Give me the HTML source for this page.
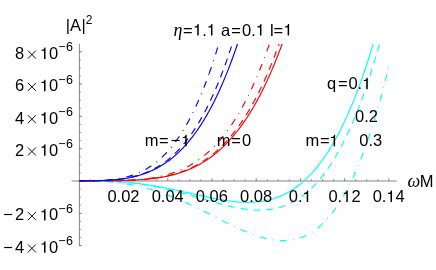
<!DOCTYPE html>
<html><head><meta charset="utf-8"><title>chart</title>
<style>
html,body{margin:0;padding:0;background:#fff;}
body{width:436px;height:270px;overflow:hidden;}
svg{display:block;will-change:transform;}
text{font-family:"Liberation Sans",sans-serif;fill:#000;}
</style></head><body>
<svg width="436" height="270" viewBox="0 0 436 270">
<g stroke="#555" stroke-width="0.7" fill="none">
<line x1="71.6" y1="181.0" x2="396.7" y2="181.0"/>
<line x1="79.4" y1="44" x2="79.4" y2="245.90"/>
<line x1="90.45" y1="181.00" x2="90.45" y2="179.40"/>
<line x1="101.50" y1="181.00" x2="101.50" y2="179.40"/>
<line x1="112.55" y1="181.00" x2="112.55" y2="179.40"/>
<line x1="123.60" y1="181.00" x2="123.60" y2="178.20"/>
<line x1="134.65" y1="181.00" x2="134.65" y2="179.40"/>
<line x1="145.70" y1="181.00" x2="145.70" y2="179.40"/>
<line x1="156.75" y1="181.00" x2="156.75" y2="179.40"/>
<line x1="167.80" y1="181.00" x2="167.80" y2="178.20"/>
<line x1="178.85" y1="181.00" x2="178.85" y2="179.40"/>
<line x1="189.90" y1="181.00" x2="189.90" y2="179.40"/>
<line x1="200.95" y1="181.00" x2="200.95" y2="179.40"/>
<line x1="212.00" y1="181.00" x2="212.00" y2="178.20"/>
<line x1="223.05" y1="181.00" x2="223.05" y2="179.40"/>
<line x1="234.10" y1="181.00" x2="234.10" y2="179.40"/>
<line x1="245.15" y1="181.00" x2="245.15" y2="179.40"/>
<line x1="256.20" y1="181.00" x2="256.20" y2="178.20"/>
<line x1="267.25" y1="181.00" x2="267.25" y2="179.40"/>
<line x1="278.30" y1="181.00" x2="278.30" y2="179.40"/>
<line x1="289.35" y1="181.00" x2="289.35" y2="179.40"/>
<line x1="300.40" y1="181.00" x2="300.40" y2="178.20"/>
<line x1="311.45" y1="181.00" x2="311.45" y2="179.40"/>
<line x1="322.50" y1="181.00" x2="322.50" y2="179.40"/>
<line x1="333.55" y1="181.00" x2="333.55" y2="179.40"/>
<line x1="344.60" y1="181.00" x2="344.60" y2="178.20"/>
<line x1="355.65" y1="181.00" x2="355.65" y2="179.40"/>
<line x1="366.70" y1="181.00" x2="366.70" y2="179.40"/>
<line x1="377.75" y1="181.00" x2="377.75" y2="179.40"/>
<line x1="388.80" y1="181.00" x2="388.80" y2="178.20"/>
<line x1="79.40" y1="245.60" x2="82.00" y2="245.60"/>
<line x1="79.40" y1="237.52" x2="80.80" y2="237.52"/>
<line x1="79.40" y1="229.45" x2="80.80" y2="229.45"/>
<line x1="79.40" y1="221.38" x2="80.80" y2="221.38"/>
<line x1="79.40" y1="213.30" x2="82.00" y2="213.30"/>
<line x1="79.40" y1="205.22" x2="80.80" y2="205.22"/>
<line x1="79.40" y1="197.15" x2="80.80" y2="197.15"/>
<line x1="79.40" y1="189.07" x2="80.80" y2="189.07"/>
<line x1="79.40" y1="172.93" x2="80.80" y2="172.93"/>
<line x1="79.40" y1="164.85" x2="80.80" y2="164.85"/>
<line x1="79.40" y1="156.78" x2="80.80" y2="156.78"/>
<line x1="79.40" y1="148.70" x2="82.00" y2="148.70"/>
<line x1="79.40" y1="140.62" x2="80.80" y2="140.62"/>
<line x1="79.40" y1="132.55" x2="80.80" y2="132.55"/>
<line x1="79.40" y1="124.48" x2="80.80" y2="124.48"/>
<line x1="79.40" y1="116.40" x2="82.00" y2="116.40"/>
<line x1="79.40" y1="108.33" x2="80.80" y2="108.33"/>
<line x1="79.40" y1="100.25" x2="80.80" y2="100.25"/>
<line x1="79.40" y1="92.18" x2="80.80" y2="92.18"/>
<line x1="79.40" y1="84.10" x2="82.00" y2="84.10"/>
<line x1="79.40" y1="76.03" x2="80.80" y2="76.03"/>
<line x1="79.40" y1="67.95" x2="80.80" y2="67.95"/>
<line x1="79.40" y1="59.88" x2="80.80" y2="59.88"/>
<line x1="79.40" y1="51.80" x2="82.00" y2="51.80"/>
</g>
<g fill="none" stroke-width="1.15">
<path d="M79.40 180.80 L80.40 180.80 L81.40 180.80 L82.40 180.80 L83.40 180.80 L84.40 180.80 L85.40 180.80 L86.40 180.81 L87.40 180.81 L88.40 180.81 L89.40 180.82 L90.40 180.82 L91.40 180.83 L92.40 180.84 L93.40 180.85 L94.40 180.86 L95.40 180.87 L96.40 180.88 L97.40 180.90 L98.40 180.92 L99.40 180.93 L100.40 180.96 L101.40 180.98 L102.40 181.00 L103.40 181.03 L104.40 181.06 L105.40 181.09 L106.40 181.12 L107.40 181.15 L108.40 181.19 L109.40 181.23 L110.40 181.27 L111.40 181.32 L112.40 181.36 L113.40 181.41 L114.40 181.47 L115.40 181.52 L116.40 181.58 L117.40 181.64 L118.40 181.70 L119.40 181.77 L120.40 181.83 L121.40 181.90 L122.40 181.98 L123.40 182.06 L124.40 182.14 L125.40 182.22 L126.40 182.30 L127.40 182.39 L128.40 182.48 L129.40 182.58 L130.40 182.68 L131.40 182.78 L132.40 182.88 L133.40 182.99 L134.40 183.10 L135.40 183.21 L136.40 183.33 L137.40 183.44 L138.40 183.57 L139.40 183.69 L140.40 183.82 L141.40 183.95 L142.40 184.08 L143.40 184.22 L144.40 184.36 L145.40 184.50 L146.40 184.65 L147.40 184.80 L148.40 184.95 L149.40 185.10 L150.40 185.26 L151.40 185.42 L152.40 185.59 L153.40 185.75 L154.40 185.92 L155.40 186.09 L156.40 186.26 L157.40 186.44 L158.40 186.62 L159.40 186.80 L160.40 186.99 L161.40 187.17 L162.40 187.36 L163.40 187.55 L164.40 187.74 L165.40 187.94 L166.40 188.14 L167.40 188.34 L168.40 188.54 L169.40 188.74 L170.40 188.95 L171.40 189.16 L172.40 189.37 L173.40 189.58 L174.40 189.79 L175.40 190.00 L176.40 190.22 L177.40 190.44 L178.40 190.66 L179.40 190.87 L180.40 191.10 L181.40 191.32 L182.40 191.54 L183.40 191.76 L184.40 191.99 L185.40 192.21 L186.40 192.44 L187.40 192.67 L188.40 192.89 L189.40 193.12 L190.40 193.35 L191.40 193.57 L192.40 193.80 L193.40 194.03 L194.40 194.26 L195.40 194.48 L196.40 194.71 L197.40 194.93 L198.40 195.16 L199.40 195.38 L200.40 195.60 L201.40 195.83 L202.40 196.05 L203.40 196.27 L204.40 196.49 L205.40 196.70 L206.40 196.92 L207.40 197.13 L208.40 197.34 L209.40 197.55 L210.40 197.75 L211.40 197.96 L212.40 198.16 L213.40 198.36 L214.40 198.55 L215.40 198.75 L216.40 198.94 L217.40 199.12 L218.40 199.31 L219.40 199.49 L220.40 199.66 L221.40 199.83 L222.40 200.00 L223.40 200.16 L224.40 200.32 L225.40 200.48 L226.40 200.63 L227.40 200.77 L228.40 200.91 L229.40 201.04 L230.40 201.17 L231.40 201.29 L232.40 201.41 L233.40 201.52 L234.40 201.63 L235.40 201.72 L236.40 201.82 L237.40 201.90 L238.40 201.98 L239.40 202.05 L240.40 202.11 L241.40 202.17 L242.40 202.22 L243.40 202.26 L244.40 202.29 L245.40 202.31 L246.40 202.33 L247.40 202.33 L248.40 202.33 L249.40 202.32 L250.40 202.30 L251.40 202.26 L252.40 202.22 L253.40 202.17 L254.40 202.11 L255.40 202.04 L256.40 201.96 L257.40 201.86 L258.40 201.76 L259.40 201.64 L260.40 201.51 L261.40 201.37 L262.40 201.22 L263.40 201.06 L264.40 200.88 L265.40 200.69 L266.40 200.49 L267.40 200.27 L268.40 200.04 L269.40 199.80 L270.40 199.54 L271.40 199.27 L272.40 198.98 L273.40 198.68 L274.40 198.36 L275.40 198.03 L276.40 197.68 L277.40 197.32 L278.40 196.94 L279.40 196.54 L280.40 196.13 L281.40 195.70 L282.40 195.25 L283.40 194.79 L284.40 194.31 L285.40 193.81 L286.40 193.29 L287.40 192.75 L288.40 192.19 L289.40 191.62 L290.40 191.03 L291.40 190.41 L292.40 189.78 L293.40 189.12 L294.40 188.45 L295.40 187.75 L296.40 187.04 L297.40 186.30 L298.40 185.54 L299.40 184.76 L300.40 183.96 L301.40 183.13 L302.40 182.28 L303.40 181.41 L304.40 180.51 L305.40 179.59 L306.40 178.65 L307.40 177.68 L308.40 176.69 L309.40 175.67 L310.40 174.63 L311.40 173.56 L312.40 172.46 L313.40 171.34 L314.40 170.19 L315.40 169.02 L316.40 167.82 L317.40 166.59 L318.40 165.33 L319.40 164.04 L320.40 162.73 L321.40 161.39 L322.40 160.01 L323.40 158.61 L324.40 157.18 L325.40 155.72 L326.40 154.23 L327.40 152.70 L328.40 151.15 L329.40 149.56 L330.40 147.95 L331.40 146.30 L332.40 144.62 L333.40 142.90 L334.40 141.15 L335.40 139.37 L336.40 137.55 L337.40 135.70 L338.40 133.82 L339.40 131.90 L340.40 129.94 L341.40 127.95 L342.40 125.93 L343.40 123.86 L344.40 121.76 L345.40 119.63 L346.40 117.45 L347.40 115.24 L348.40 112.99 L349.40 110.70 L350.40 108.37 L351.40 106.00 L352.40 103.60 L353.40 101.15 L354.40 98.66 L355.40 96.13 L356.40 93.56 L357.40 90.95 L358.40 88.30 L359.40 85.60 L360.40 82.87 L361.40 80.09 L362.40 77.26 L363.40 74.39 L364.40 71.48 L365.40 68.52 L366.40 65.52 L367.40 62.48 L368.40 59.38 L369.40 56.24 L370.40 53.06 L371.40 49.83 L372.40 46.55 L373.17 44.00" stroke="#00ffff" />
<path d="M79.40 180.80 L80.40 180.80 L81.40 180.80 L82.40 180.80 L83.40 180.80 L84.40 180.80 L85.40 180.80 L86.40 180.81 L87.40 180.81 L88.40 180.81 L89.40 180.82 L90.40 180.82 L91.40 180.83 L92.40 180.84 L93.40 180.85 L94.40 180.86 L95.40 180.87 L96.40 180.89 L97.40 180.90 L98.40 180.92 L99.40 180.94 L100.40 180.96 L101.40 180.98 L102.40 181.01 L103.40 181.04 L104.40 181.07 L105.40 181.10 L106.40 181.13 L107.40 181.17 L108.40 181.21 L109.40 181.25 L110.40 181.29 L111.40 181.34 L112.40 181.39 L113.40 181.44 L114.40 181.50 L115.40 181.56 L116.40 181.62 L117.40 181.68 L118.40 181.75 L119.40 181.82 L120.40 181.89 L121.40 181.97 L122.40 182.04 L123.40 182.13 L124.40 182.21 L125.40 182.30 L126.40 182.39 L127.40 182.49 L128.40 182.59 L129.40 182.69 L130.40 182.80 L131.40 182.91 L132.40 183.02 L133.40 183.14 L134.40 183.26 L135.40 183.38 L136.40 183.51 L137.40 183.64 L138.40 183.77 L139.40 183.91 L140.40 184.05 L141.40 184.20 L142.40 184.35 L143.40 184.50 L144.40 184.66 L145.40 184.82 L146.40 184.98 L147.40 185.15 L148.40 185.32 L149.40 185.49 L150.40 185.67 L151.40 185.85 L152.40 186.04 L153.40 186.23 L154.40 186.42 L155.40 186.61 L156.40 186.81 L157.40 187.02 L158.40 187.22 L159.40 187.43 L160.40 187.64 L161.40 187.86 L162.40 188.08 L163.40 188.30 L164.40 188.53 L165.40 188.75 L166.40 188.99 L167.40 189.22 L168.40 189.46 L169.40 189.70 L170.40 189.94 L171.40 190.19 L172.40 190.44 L173.40 190.69 L174.40 190.94 L175.40 191.20 L176.40 191.46 L177.40 191.72 L178.40 191.99 L179.40 192.25 L180.40 192.52 L181.40 192.79 L182.40 193.06 L183.40 193.34 L184.40 193.62 L185.40 193.89 L186.40 194.17 L187.40 194.46 L188.40 194.74 L189.40 195.02 L190.40 195.31 L191.40 195.59 L192.40 195.88 L193.40 196.17 L194.40 196.46 L195.40 196.75 L196.40 197.04 L197.40 197.33 L198.40 197.63 L199.40 197.92 L200.40 198.21 L201.40 198.50 L202.40 198.80 L203.40 199.09 L204.40 199.38 L205.40 199.67 L206.40 199.96 L207.40 200.25 L208.40 200.54 L209.40 200.83 L210.40 201.12 L211.40 201.40 L212.40 201.68 L213.40 201.97 L214.40 202.25 L215.40 202.53 L216.40 202.80 L217.40 203.08 L218.40 203.35 L219.40 203.62 L220.40 203.88 L221.40 204.15 L222.40 204.41 L223.40 204.66 L224.40 204.92 L225.40 205.16 L226.40 205.41 L227.40 205.65 L228.40 205.89 L229.40 206.12 L230.40 206.35 L231.40 206.58 L232.40 206.79 L233.40 207.01 L234.40 207.22 L235.40 207.42 L236.40 207.62 L237.40 207.81 L238.40 207.99 L239.40 208.17 L240.40 208.34 L241.40 208.51 L242.40 208.67 L243.40 208.82 L244.40 208.96 L245.40 209.09 L246.40 209.22 L247.40 209.34 L248.40 209.45 L249.40 209.56 L250.40 209.65 L251.40 209.74 L252.40 209.81 L253.40 209.88 L254.40 209.93 L255.40 209.98 L256.40 210.02 L257.40 210.04 L258.40 210.06 L259.40 210.06 L260.40 210.05 L261.40 210.03 L262.40 210.00 L263.40 209.96 L264.40 209.91 L265.40 209.84 L266.40 209.76 L267.40 209.67 L268.40 209.56 L269.40 209.44 L270.40 209.31 L271.40 209.16 L272.40 209.00 L273.40 208.82 L274.40 208.63 L275.40 208.42 L276.40 208.20 L277.40 207.96 L278.40 207.71 L279.40 207.44 L280.40 207.15 L281.40 206.85 L282.40 206.53 L283.40 206.19 L284.40 205.83 L285.40 205.46 L286.40 205.07 L287.40 204.66 L288.40 204.23 L289.40 203.78 L290.40 203.31 L291.40 202.82 L292.40 202.31 L293.40 201.78 L294.40 201.24 L295.40 200.66 L296.40 200.07 L297.40 199.46 L298.40 198.82 L299.40 198.17 L300.40 197.49 L301.40 196.78 L302.40 196.06 L303.40 195.31 L304.40 194.53 L305.40 193.74 L306.40 192.91 L307.40 192.07 L308.40 191.20 L309.40 190.30 L310.40 189.37 L311.40 188.43 L312.40 187.45 L313.40 186.45 L314.40 185.42 L315.40 184.36 L316.40 183.28 L317.40 182.16 L318.40 181.02 L319.40 179.85 L320.40 178.66 L321.40 177.43 L322.40 176.17 L323.40 174.88 L324.40 173.56 L325.40 172.22 L326.40 170.84 L327.40 169.43 L328.40 167.98 L329.40 166.51 L330.40 165.00 L331.40 163.46 L332.40 161.89 L333.40 160.28 L334.40 158.64 L335.40 156.97 L336.40 155.26 L337.40 153.52 L338.40 151.74 L339.40 149.92 L340.40 148.08 L341.40 146.19 L342.40 144.27 L343.40 142.31 L344.40 140.31 L345.40 138.28 L346.40 136.21 L347.40 134.10 L348.40 131.95 L349.40 129.76 L350.40 127.54 L351.40 125.27 L352.40 122.97 L353.40 120.62 L354.40 118.23 L355.40 115.81 L356.40 113.34 L357.40 110.83 L358.40 108.28 L359.40 105.68 L360.40 103.04 L361.40 100.36 L362.40 97.64 L363.40 94.87 L364.40 92.06 L365.40 89.21 L366.40 86.31 L367.40 83.36 L368.40 80.37 L369.40 77.33 L370.40 74.25 L371.40 71.12 L372.40 67.95 L373.40 64.73 L374.40 61.46 L375.40 58.14 L376.40 54.77 L377.40 51.36 L378.40 47.90 L379.40 44.38 L379.51 44.00" stroke="#00ffff" stroke-dasharray="7 5.8" stroke-dashoffset="2"/>
<path d="M79.40 180.80 L80.40 180.80 L81.40 180.80 L82.40 180.80 L83.40 180.81 L84.40 180.81 L85.40 180.82 L86.40 180.83 L87.40 180.84 L88.40 180.85 L89.40 180.87 L90.40 180.89 L91.40 180.91 L92.40 180.93 L93.40 180.96 L94.40 180.99 L95.40 181.02 L96.40 181.05 L97.40 181.09 L98.40 181.13 L99.40 181.18 L100.40 181.23 L101.40 181.28 L102.40 181.33 L103.40 181.39 L104.40 181.45 L105.40 181.52 L106.40 181.59 L107.40 181.67 L108.40 181.74 L109.40 181.83 L110.40 181.91 L111.40 182.00 L112.40 182.10 L113.40 182.20 L114.40 182.30 L115.40 182.41 L116.40 182.52 L117.40 182.64 L118.40 182.76 L119.40 182.89 L120.40 183.02 L121.40 183.15 L122.40 183.30 L123.40 183.44 L124.40 183.59 L125.40 183.75 L126.40 183.91 L127.40 184.07 L128.40 184.24 L129.40 184.42 L130.40 184.60 L131.40 184.79 L132.40 184.98 L133.40 185.17 L134.40 185.38 L135.40 185.58 L136.40 185.79 L137.40 186.01 L138.40 186.23 L139.40 186.46 L140.40 186.69 L141.40 186.93 L142.40 187.18 L143.40 187.43 L144.40 187.68 L145.40 187.94 L146.40 188.20 L147.40 188.47 L148.40 188.75 L149.40 189.03 L150.40 189.32 L151.40 189.61 L152.40 189.91 L153.40 190.21 L154.40 190.52 L155.40 190.83 L156.40 191.15 L157.40 191.47 L158.40 191.80 L159.40 192.13 L160.40 192.47 L161.40 192.81 L162.40 193.16 L163.40 193.51 L164.40 193.87 L165.40 194.23 L166.40 194.60 L167.40 194.98 L168.40 195.35 L169.40 195.74 L170.40 196.12 L171.40 196.52 L172.40 196.91 L173.40 197.31 L174.40 197.72 L175.40 198.13 L176.40 198.54 L177.40 198.96 L178.40 199.38 L179.40 199.81 L180.40 200.24 L181.40 200.68 L182.40 201.11 L183.40 201.56 L184.40 202.00 L185.40 202.45 L186.40 202.91 L187.40 203.36 L188.40 203.82 L189.40 204.29 L190.40 204.75 L191.40 205.22 L192.40 205.70 L193.40 206.17 L194.40 206.65 L195.40 207.13 L196.40 207.62 L197.40 208.10 L198.40 208.59 L199.40 209.08 L200.40 209.57 L201.40 210.07 L202.40 210.57 L203.40 211.06 L204.40 211.56 L205.40 212.07 L206.40 212.57 L207.40 213.07 L208.40 213.58 L209.40 214.08 L210.40 214.59 L211.40 215.10 L212.40 215.60 L213.40 216.11 L214.40 216.62 L215.40 217.13 L216.40 217.64 L217.40 218.14 L218.40 218.65 L219.40 219.16 L220.40 219.66 L221.40 220.17 L222.40 220.67 L223.40 221.17 L224.40 221.67 L225.40 222.17 L226.40 222.67 L227.40 223.17 L228.40 223.66 L229.40 224.15 L230.40 224.64 L231.40 225.12 L232.40 225.60 L233.40 226.08 L234.40 226.56 L235.40 227.03 L236.40 227.50 L237.40 227.96 L238.40 228.42 L239.40 228.87 L240.40 229.32 L241.40 229.77 L242.40 230.21 L243.40 230.64 L244.40 231.07 L245.40 231.49 L246.40 231.91 L247.40 232.32 L248.40 232.72 L249.40 233.12 L250.40 233.51 L251.40 233.89 L252.40 234.27 L253.40 234.64 L254.40 234.99 L255.40 235.35 L256.40 235.69 L257.40 236.02 L258.40 236.34 L259.40 236.66 L260.40 236.96 L261.40 237.26 L262.40 237.54 L263.40 237.82 L264.40 238.08 L265.40 238.34 L266.40 238.58 L267.40 238.81 L268.40 239.02 L269.40 239.23 L270.40 239.42 L271.40 239.60 L272.40 239.77 L273.40 239.92 L274.40 240.06 L275.40 240.19 L276.40 240.30 L277.40 240.40 L278.40 240.48 L279.40 240.54 L280.40 240.60 L281.40 240.63 L282.40 240.65 L283.40 240.65 L284.40 240.64 L285.40 240.60 L286.40 240.55 L287.40 240.48 L288.40 240.40 L289.40 240.29 L290.40 240.17 L291.40 240.02 L292.40 239.86 L293.40 239.68 L294.40 239.47 L295.40 239.25 L296.40 239.00 L297.40 238.74 L298.40 238.45 L299.40 238.13 L300.40 237.80 L301.40 237.44 L302.40 237.06 L303.40 236.66 L304.40 236.23 L305.40 235.77 L306.40 235.29 L307.40 234.79 L308.40 234.26 L309.40 233.70 L310.40 233.12 L311.40 232.51 L312.40 231.87 L313.40 231.21 L314.40 230.51 L315.40 229.79 L316.40 229.04 L317.40 228.26 L318.40 227.45 L319.40 226.61 L320.40 225.74 L321.40 224.83 L322.40 223.90 L323.40 222.93 L324.40 221.93 L325.40 220.90 L326.40 219.83 L327.40 218.73 L328.40 217.60 L329.40 216.43 L330.40 215.22 L331.40 213.98 L332.40 212.71 L333.40 211.39 L334.40 210.04 L335.40 208.65 L336.40 207.23 L337.40 205.76 L338.40 204.26 L339.40 202.72 L340.40 201.13 L341.40 199.51 L342.40 197.84 L343.40 196.14 L344.40 194.39 L345.40 192.60 L346.40 190.77 L347.40 188.89 L348.40 186.97 L349.40 185.00 L350.40 182.99 L351.40 180.93 L352.40 178.83 L353.40 176.68 L354.40 174.48 L355.40 172.24 L356.40 169.95 L357.40 167.61 L358.40 165.22 L359.40 162.78 L360.40 160.29 L361.40 157.75 L362.40 155.15 L363.40 152.51 L364.40 149.81 L365.40 147.06 L366.40 144.26 L367.40 141.40 L368.40 138.49 L369.40 135.52 L370.40 132.50 L371.40 129.42 L372.40 126.28 L373.40 123.09 L374.40 119.83 L375.40 116.52 L376.40 113.15 L377.40 109.72 L378.40 106.23 L379.40 102.68 L380.40 99.06 L381.40 95.38 L382.40 91.65 L383.40 87.84 L384.40 83.98 L385.40 80.04 L386.40 76.05 L387.40 71.98 L388.40 67.85 L388.80 66.18" stroke="#00ffff" stroke-dasharray="7 6.3 0.9 6.3" stroke-dashoffset="-6.5"/>
<path d="M79.40 180.80 L80.40 180.80 L81.40 180.80 L82.40 180.80 L83.40 180.80 L84.40 180.80 L85.40 180.80 L86.40 180.80 L87.40 180.80 L88.40 180.80 L89.40 180.80 L90.40 180.80 L91.40 180.80 L92.40 180.80 L93.40 180.80 L94.40 180.80 L95.40 180.79 L96.40 180.79 L97.40 180.79 L98.40 180.79 L99.40 180.79 L100.40 180.78 L101.40 180.78 L102.40 180.78 L103.40 180.77 L104.40 180.77 L105.40 180.76 L106.40 180.76 L107.40 180.75 L108.40 180.75 L109.40 180.74 L110.40 180.73 L111.40 180.72 L112.40 180.71 L113.40 180.70 L114.40 180.69 L115.40 180.67 L116.40 180.66 L117.40 180.64 L118.40 180.62 L119.40 180.60 L120.40 180.58 L121.40 180.56 L122.40 180.54 L123.40 180.51 L124.40 180.49 L125.40 180.46 L126.40 180.43 L127.40 180.39 L128.40 180.36 L129.40 180.32 L130.40 180.28 L131.40 180.24 L132.40 180.19 L133.40 180.15 L134.40 180.10 L135.40 180.04 L136.40 179.99 L137.40 179.93 L138.40 179.87 L139.40 179.80 L140.40 179.73 L141.40 179.66 L142.40 179.59 L143.40 179.51 L144.40 179.42 L145.40 179.34 L146.40 179.24 L147.40 179.15 L148.40 179.05 L149.40 178.94 L150.40 178.84 L151.40 178.72 L152.40 178.60 L153.40 178.48 L154.40 178.35 L155.40 178.21 L156.40 178.08 L157.40 177.93 L158.40 177.78 L159.40 177.62 L160.40 177.46 L161.40 177.29 L162.40 177.11 L163.40 176.93 L164.40 176.74 L165.40 176.54 L166.40 176.34 L167.40 176.13 L168.40 175.91 L169.40 175.69 L170.40 175.45 L171.40 175.21 L172.40 174.96 L173.40 174.70 L174.40 174.44 L175.40 174.16 L176.40 173.88 L177.40 173.59 L178.40 173.28 L179.40 172.97 L180.40 172.65 L181.40 172.32 L182.40 171.98 L183.40 171.63 L184.40 171.27 L185.40 170.89 L186.40 170.51 L187.40 170.12 L188.40 169.71 L189.40 169.29 L190.40 168.87 L191.40 168.43 L192.40 167.97 L193.40 167.51 L194.40 167.03 L195.40 166.54 L196.40 166.04 L197.40 165.52 L198.40 164.99 L199.40 164.44 L200.40 163.88 L201.40 163.31 L202.40 162.73 L203.40 162.12 L204.40 161.51 L205.40 160.87 L206.40 160.23 L207.40 159.56 L208.40 158.88 L209.40 158.19 L210.40 157.48 L211.40 156.75 L212.40 156.00 L213.40 155.24 L214.40 154.46 L215.40 153.66 L216.40 152.84 L217.40 152.01 L218.40 151.15 L219.40 150.28 L220.40 149.39 L221.40 148.48 L222.40 147.55 L223.40 146.60 L224.40 145.62 L225.40 144.63 L226.40 143.62 L227.40 142.58 L228.40 141.53 L229.40 140.45 L230.40 139.35 L231.40 138.23 L232.40 137.08 L233.40 135.91 L234.40 134.72 L235.40 133.50 L236.40 132.26 L237.40 131.00 L238.40 129.71 L239.40 128.40 L240.40 127.06 L241.40 125.69 L242.40 124.30 L243.40 122.89 L244.40 121.44 L245.40 119.97 L246.40 118.47 L247.40 116.95 L248.40 115.40 L249.40 113.81 L250.40 112.20 L251.40 110.56 L252.40 108.89 L253.40 107.20 L254.40 105.47 L255.40 103.71 L256.40 101.92 L257.40 100.10 L258.40 98.24 L259.40 96.36 L260.40 94.44 L261.40 92.49 L262.40 90.51 L263.40 88.50 L264.40 86.45 L265.40 84.36 L266.40 82.24 L267.40 80.09 L268.40 77.90 L269.40 75.68 L270.40 73.42 L271.40 71.12 L272.40 68.79 L273.40 66.42 L274.40 64.01 L275.40 61.56 L276.40 59.08 L277.40 56.56 L278.40 53.99 L279.40 51.39 L280.40 48.75 L281.40 46.07 L282.16 44.00" stroke="#ff0000" />
<path d="M79.40 180.80 L80.40 180.80 L81.40 180.80 L82.40 180.80 L83.40 180.80 L84.40 180.80 L85.40 180.80 L86.40 180.80 L87.40 180.80 L88.40 180.80 L89.40 180.80 L90.40 180.80 L91.40 180.80 L92.40 180.80 L93.40 180.80 L94.40 180.80 L95.40 180.80 L96.40 180.79 L97.40 180.79 L98.40 180.79 L99.40 180.79 L100.40 180.79 L101.40 180.78 L102.40 180.78 L103.40 180.78 L104.40 180.77 L105.40 180.77 L106.40 180.76 L107.40 180.75 L108.40 180.75 L109.40 180.74 L110.40 180.73 L111.40 180.72 L112.40 180.71 L113.40 180.70 L114.40 180.68 L115.40 180.67 L116.40 180.66 L117.40 180.64 L118.40 180.62 L119.40 180.60 L120.40 180.58 L121.40 180.56 L122.40 180.53 L123.40 180.51 L124.40 180.48 L125.40 180.45 L126.40 180.42 L127.40 180.38 L128.40 180.35 L129.40 180.31 L130.40 180.27 L131.40 180.22 L132.40 180.18 L133.40 180.13 L134.40 180.08 L135.40 180.02 L136.40 179.96 L137.40 179.90 L138.40 179.84 L139.40 179.77 L140.40 179.70 L141.40 179.62 L142.40 179.54 L143.40 179.46 L144.40 179.37 L145.40 179.28 L146.40 179.18 L147.40 179.08 L148.40 178.98 L149.40 178.87 L150.40 178.75 L151.40 178.63 L152.40 178.51 L153.40 178.38 L154.40 178.24 L155.40 178.10 L156.40 177.95 L157.40 177.80 L158.40 177.64 L159.40 177.48 L160.40 177.30 L161.40 177.13 L162.40 176.94 L163.40 176.75 L164.40 176.55 L165.40 176.34 L166.40 176.13 L167.40 175.90 L168.40 175.67 L169.40 175.44 L170.40 175.19 L171.40 174.93 L172.40 174.67 L173.40 174.40 L174.40 174.12 L175.40 173.83 L176.40 173.53 L177.40 173.22 L178.40 172.90 L179.40 172.57 L180.40 172.23 L181.40 171.88 L182.40 171.52 L183.40 171.15 L184.40 170.76 L185.40 170.37 L186.40 169.96 L187.40 169.55 L188.40 169.12 L189.40 168.67 L190.40 168.22 L191.40 167.75 L192.40 167.27 L193.40 166.78 L194.40 166.27 L195.40 165.75 L196.40 165.22 L197.40 164.67 L198.40 164.11 L199.40 163.53 L200.40 162.94 L201.40 162.33 L202.40 161.71 L203.40 161.07 L204.40 160.41 L205.40 159.74 L206.40 159.05 L207.40 158.35 L208.40 157.63 L209.40 156.89 L210.40 156.13 L211.40 155.36 L212.40 154.57 L213.40 153.76 L214.40 152.93 L215.40 152.08 L216.40 151.21 L217.40 150.32 L218.40 149.41 L219.40 148.49 L220.40 147.54 L221.40 146.57 L222.40 145.58 L223.40 144.57 L224.40 143.53 L225.40 142.48 L226.40 141.40 L227.40 140.30 L228.40 139.17 L229.40 138.03 L230.40 136.86 L231.40 135.66 L232.40 134.44 L233.40 133.20 L234.40 131.93 L235.40 130.64 L236.40 129.32 L237.40 127.97 L238.40 126.60 L239.40 125.20 L240.40 123.77 L241.40 122.32 L242.40 120.84 L243.40 119.33 L244.40 117.79 L245.40 116.23 L246.40 114.63 L247.40 113.01 L248.40 111.35 L249.40 109.66 L250.40 107.95 L251.40 106.20 L252.40 104.42 L253.40 102.61 L254.40 100.77 L255.40 98.90 L256.40 96.99 L257.40 95.05 L258.40 93.07 L259.40 91.06 L260.40 89.02 L261.40 86.94 L262.40 84.83 L263.40 82.68 L264.40 80.49 L265.40 78.27 L266.40 76.01 L267.40 73.72 L268.40 71.38 L269.40 69.01 L270.40 66.60 L271.40 64.15 L272.40 61.66 L273.40 59.13 L274.40 56.56 L275.40 53.95 L276.40 51.30 L277.40 48.61 L278.40 45.87 L279.08 44.00" stroke="#ff0000" stroke-dasharray="7 5.8" stroke-dashoffset="1.5"/>
<path d="M79.40 180.80 L80.40 180.80 L81.40 180.80 L82.40 180.80 L83.40 180.80 L84.40 180.80 L85.40 180.80 L86.40 180.80 L87.40 180.80 L88.40 180.80 L89.40 180.80 L90.40 180.80 L91.40 180.80 L92.40 180.80 L93.40 180.80 L94.40 180.80 L95.40 180.79 L96.40 180.79 L97.40 180.79 L98.40 180.79 L99.40 180.78 L100.40 180.78 L101.40 180.78 L102.40 180.77 L103.40 180.77 L104.40 180.76 L105.40 180.75 L106.40 180.75 L107.40 180.74 L108.40 180.73 L109.40 180.72 L110.40 180.71 L111.40 180.70 L112.40 180.68 L113.40 180.67 L114.40 180.65 L115.40 180.63 L116.40 180.61 L117.40 180.59 L118.40 180.57 L119.40 180.54 L120.40 180.52 L121.40 180.49 L122.40 180.45 L123.40 180.42 L124.40 180.39 L125.40 180.35 L126.40 180.31 L127.40 180.26 L128.40 180.22 L129.40 180.17 L130.40 180.11 L131.40 180.06 L132.40 180.00 L133.40 179.94 L134.40 179.87 L135.40 179.80 L136.40 179.73 L137.40 179.65 L138.40 179.57 L139.40 179.48 L140.40 179.39 L141.40 179.29 L142.40 179.19 L143.40 179.09 L144.40 178.98 L145.40 178.86 L146.40 178.74 L147.40 178.62 L148.40 178.48 L149.40 178.34 L150.40 178.20 L151.40 178.05 L152.40 177.89 L153.40 177.73 L154.40 177.56 L155.40 177.38 L156.40 177.20 L157.40 177.00 L158.40 176.80 L159.40 176.60 L160.40 176.38 L161.40 176.16 L162.40 175.92 L163.40 175.68 L164.40 175.43 L165.40 175.18 L166.40 174.91 L167.40 174.63 L168.40 174.34 L169.40 174.05 L170.40 173.74 L171.40 173.42 L172.40 173.09 L173.40 172.75 L174.40 172.40 L175.40 172.04 L176.40 171.67 L177.40 171.28 L178.40 170.88 L179.40 170.48 L180.40 170.05 L181.40 169.62 L182.40 169.17 L183.40 168.71 L184.40 168.23 L185.40 167.74 L186.40 167.24 L187.40 166.72 L188.40 166.19 L189.40 165.64 L190.40 165.08 L191.40 164.50 L192.40 163.91 L193.40 163.30 L194.40 162.67 L195.40 162.03 L196.40 161.37 L197.40 160.69 L198.40 160.00 L199.40 159.29 L200.40 158.55 L201.40 157.80 L202.40 157.04 L203.40 156.25 L204.40 155.44 L205.40 154.61 L206.40 153.77 L207.40 152.90 L208.40 152.01 L209.40 151.10 L210.40 150.17 L211.40 149.22 L212.40 148.24 L213.40 147.25 L214.40 146.23 L215.40 145.19 L216.40 144.12 L217.40 143.03 L218.40 141.91 L219.40 140.78 L220.40 139.61 L221.40 138.42 L222.40 137.21 L223.40 135.97 L224.40 134.70 L225.40 133.41 L226.40 132.09 L227.40 130.74 L228.40 129.36 L229.40 127.96 L230.40 126.52 L231.40 125.06 L232.40 123.57 L233.40 122.05 L234.40 120.50 L235.40 118.92 L236.40 117.30 L237.40 115.66 L238.40 113.98 L239.40 112.28 L240.40 110.53 L241.40 108.76 L242.40 106.95 L243.40 105.11 L244.40 103.24 L245.40 101.32 L246.40 99.38 L247.40 97.40 L248.40 95.38 L249.40 93.33 L250.40 91.24 L251.40 89.11 L252.40 86.94 L253.40 84.74 L254.40 82.50 L255.40 80.22 L256.40 77.89 L257.40 75.53 L258.40 73.13 L259.40 70.69 L260.40 68.20 L261.40 65.68 L262.40 63.11 L263.40 60.50 L264.40 57.84 L265.40 55.15 L266.40 52.40 L267.40 49.62 L268.40 46.78 L269.37 44.00" stroke="#ff0000" stroke-dasharray="7 6.3 0.9 6.3" stroke-dashoffset="-7.3"/>
<path d="M79.40 180.80 L80.40 180.80 L81.40 180.80 L82.40 180.80 L83.40 180.80 L84.40 180.80 L85.40 180.79 L86.40 180.79 L87.40 180.79 L88.40 180.78 L89.40 180.78 L90.40 180.77 L91.40 180.76 L92.40 180.75 L93.40 180.73 L94.40 180.72 L95.40 180.70 L96.40 180.68 L97.40 180.66 L98.40 180.64 L99.40 180.61 L100.40 180.58 L101.40 180.55 L102.40 180.51 L103.40 180.47 L104.40 180.43 L105.40 180.38 L106.40 180.33 L107.40 180.28 L108.40 180.22 L109.40 180.16 L110.40 180.09 L111.40 180.02 L112.40 179.94 L113.40 179.86 L114.40 179.77 L115.40 179.68 L116.40 179.58 L117.40 179.48 L118.40 179.37 L119.40 179.25 L120.40 179.13 L121.40 178.99 L122.40 178.86 L123.40 178.71 L124.40 178.56 L125.40 178.40 L126.40 178.24 L127.40 178.06 L128.40 177.88 L129.40 177.69 L130.40 177.49 L131.40 177.28 L132.40 177.06 L133.40 176.83 L134.40 176.59 L135.40 176.35 L136.40 176.09 L137.40 175.82 L138.40 175.54 L139.40 175.25 L140.40 174.95 L141.40 174.64 L142.40 174.32 L143.40 173.98 L144.40 173.63 L145.40 173.27 L146.40 172.90 L147.40 172.52 L148.40 172.12 L149.40 171.70 L150.40 171.28 L151.40 170.84 L152.40 170.38 L153.40 169.91 L154.40 169.43 L155.40 168.93 L156.40 168.42 L157.40 167.89 L158.40 167.34 L159.40 166.78 L160.40 166.20 L161.40 165.60 L162.40 164.99 L163.40 164.35 L164.40 163.71 L165.40 163.04 L166.40 162.35 L167.40 161.65 L168.40 160.92 L169.40 160.18 L170.40 159.42 L171.40 158.63 L172.40 157.83 L173.40 157.00 L174.40 156.16 L175.40 155.29 L176.40 154.40 L177.40 153.49 L178.40 152.56 L179.40 151.60 L180.40 150.62 L181.40 149.62 L182.40 148.59 L183.40 147.54 L184.40 146.46 L185.40 145.36 L186.40 144.24 L187.40 143.09 L188.40 141.91 L189.40 140.71 L190.40 139.47 L191.40 138.22 L192.40 136.93 L193.40 135.62 L194.40 134.28 L195.40 132.91 L196.40 131.51 L197.40 130.08 L198.40 128.63 L199.40 127.14 L200.40 125.62 L201.40 124.07 L202.40 122.49 L203.40 120.88 L204.40 119.24 L205.40 117.56 L206.40 115.85 L207.40 114.11 L208.40 112.34 L209.40 110.53 L210.40 108.68 L211.40 106.80 L212.40 104.89 L213.40 102.94 L214.40 100.95 L215.40 98.93 L216.40 96.87 L217.40 94.77 L218.40 92.64 L219.40 90.46 L220.40 88.25 L221.40 86.00 L222.40 83.71 L223.40 81.38 L224.40 79.01 L225.40 76.60 L226.40 74.15 L227.40 71.65 L228.40 69.12 L229.40 66.54 L230.40 63.91 L231.40 61.25 L232.40 58.54 L233.40 55.78 L234.40 52.99 L235.40 50.14 L236.40 47.25 L237.40 44.31 L237.51 44.00" stroke="#0000ff" />
<path d="M79.40 180.80 L80.40 180.80 L81.40 180.80 L82.40 180.80 L83.40 180.80 L84.40 180.80 L85.40 180.79 L86.40 180.79 L87.40 180.79 L88.40 180.78 L89.40 180.78 L90.40 180.77 L91.40 180.76 L92.40 180.75 L93.40 180.74 L94.40 180.72 L95.40 180.71 L96.40 180.69 L97.40 180.67 L98.40 180.64 L99.40 180.62 L100.40 180.59 L101.40 180.55 L102.40 180.52 L103.40 180.48 L104.40 180.44 L105.40 180.39 L106.40 180.34 L107.40 180.28 L108.40 180.22 L109.40 180.16 L110.40 180.09 L111.40 180.02 L112.40 179.94 L113.40 179.85 L114.40 179.76 L115.40 179.67 L116.40 179.56 L117.40 179.46 L118.40 179.34 L119.40 179.22 L120.40 179.09 L121.40 178.95 L122.40 178.81 L123.40 178.66 L124.40 178.50 L125.40 178.33 L126.40 178.15 L127.40 177.97 L128.40 177.78 L129.40 177.57 L130.40 177.36 L131.40 177.14 L132.40 176.91 L133.40 176.66 L134.40 176.41 L135.40 176.15 L136.40 175.87 L137.40 175.58 L138.40 175.28 L139.40 174.97 L140.40 174.65 L141.40 174.32 L142.40 173.97 L143.40 173.61 L144.40 173.23 L145.40 172.84 L146.40 172.44 L147.40 172.02 L148.40 171.59 L149.40 171.14 L150.40 170.68 L151.40 170.20 L152.40 169.71 L153.40 169.20 L154.40 168.67 L155.40 168.12 L156.40 167.56 L157.40 166.98 L158.40 166.38 L159.40 165.77 L160.40 165.13 L161.40 164.48 L162.40 163.80 L163.40 163.11 L164.40 162.39 L165.40 161.66 L166.40 160.90 L167.40 160.13 L168.40 159.33 L169.40 158.51 L170.40 157.66 L171.40 156.80 L172.40 155.91 L173.40 154.99 L174.40 154.06 L175.40 153.09 L176.40 152.11 L177.40 151.10 L178.40 150.06 L179.40 148.99 L180.40 147.90 L181.40 146.79 L182.40 145.64 L183.40 144.47 L184.40 143.27 L185.40 142.04 L186.40 140.78 L187.40 139.50 L188.40 138.18 L189.40 136.83 L190.40 135.45 L191.40 134.04 L192.40 132.60 L193.40 131.13 L194.40 129.62 L195.40 128.08 L196.40 126.51 L197.40 124.90 L198.40 123.26 L199.40 121.59 L200.40 119.88 L201.40 118.13 L202.40 116.35 L203.40 114.53 L204.40 112.67 L205.40 110.77 L206.40 108.84 L207.40 106.87 L208.40 104.86 L209.40 102.81 L210.40 100.72 L211.40 98.59 L212.40 96.41 L213.40 94.20 L214.40 91.94 L215.40 89.64 L216.40 87.30 L217.40 84.92 L218.40 82.49 L219.40 80.01 L220.40 77.49 L221.40 74.92 L222.40 72.31 L223.40 69.65 L224.40 66.95 L225.40 64.19 L226.40 61.39 L227.40 58.53 L228.40 55.63 L229.40 52.68 L230.40 49.68 L231.40 46.62 L232.25 44.00" stroke="#0000ff" stroke-dasharray="7 5.8" stroke-dashoffset="0"/>
<path d="M79.40 180.80 L80.40 180.80 L81.40 180.80 L82.40 180.80 L83.40 180.80 L84.40 180.80 L85.40 180.79 L86.40 180.79 L87.40 180.78 L88.40 180.78 L89.40 180.77 L90.40 180.75 L91.40 180.74 L92.40 180.73 L93.40 180.71 L94.40 180.69 L95.40 180.66 L96.40 180.63 L97.40 180.60 L98.40 180.57 L99.40 180.53 L100.40 180.48 L101.40 180.44 L102.40 180.38 L103.40 180.33 L104.40 180.26 L105.40 180.20 L106.40 180.12 L107.40 180.04 L108.40 179.95 L109.40 179.86 L110.40 179.76 L111.40 179.65 L112.40 179.54 L113.40 179.42 L114.40 179.28 L115.40 179.15 L116.40 179.00 L117.40 178.84 L118.40 178.68 L119.40 178.50 L120.40 178.31 L121.40 178.12 L122.40 177.91 L123.40 177.70 L124.40 177.47 L125.40 177.23 L126.40 176.98 L127.40 176.71 L128.40 176.43 L129.40 176.15 L130.40 175.84 L131.40 175.53 L132.40 175.20 L133.40 174.85 L134.40 174.49 L135.40 174.12 L136.40 173.72 L137.40 173.32 L138.40 172.90 L139.40 172.46 L140.40 172.00 L141.40 171.53 L142.40 171.03 L143.40 170.52 L144.40 170.00 L145.40 169.45 L146.40 168.88 L147.40 168.29 L148.40 167.68 L149.40 167.06 L150.40 166.41 L151.40 165.73 L152.40 165.04 L153.40 164.32 L154.40 163.59 L155.40 162.82 L156.40 162.04 L157.40 161.23 L158.40 160.39 L159.40 159.53 L160.40 158.64 L161.40 157.73 L162.40 156.79 L163.40 155.82 L164.40 154.83 L165.40 153.80 L166.40 152.75 L167.40 151.67 L168.40 150.56 L169.40 149.42 L170.40 148.25 L171.40 147.04 L172.40 145.81 L173.40 144.54 L174.40 143.24 L175.40 141.91 L176.40 140.55 L177.40 139.14 L178.40 137.71 L179.40 136.24 L180.40 134.73 L181.40 133.19 L182.40 131.61 L183.40 129.99 L184.40 128.33 L185.40 126.64 L186.40 124.90 L187.40 123.13 L188.40 121.31 L189.40 119.46 L190.40 117.56 L191.40 115.62 L192.40 113.64 L193.40 111.61 L194.40 109.54 L195.40 107.43 L196.40 105.27 L197.40 103.06 L198.40 100.81 L199.40 98.51 L200.40 96.17 L201.40 93.77 L202.40 91.33 L203.40 88.84 L204.40 86.29 L205.40 83.70 L206.40 81.05 L207.40 78.36 L208.40 75.61 L209.10 73.65" stroke="#0000ff" stroke-dasharray="7 6.3 0.9 6.3" stroke-dashoffset="-6.3"/>
<path d="M209.10 73.65 L210.10 70.81 L211.10 67.91 L212.10 64.96 L213.10 61.96 L214.10 58.89 L215.10 55.77 L216.10 52.60 L217.10 49.36 L218.10 46.07 L218.72 44.00" stroke="#0000ff" stroke-dasharray="7 6.3 0.9 6.3" stroke-dashoffset="0"/>
</g>
<g fill="#000">
<text x="14.90" y="58.90" font-size="16.5" >8</text>
<path d="M27.90 50.60 L35.90 58.60 M27.90 58.60 L35.90 50.60" stroke="#000" stroke-width="0.95" fill="none"/>
<path d="M5.45 0 L4.0 0 L4.0 -7.85 L1.55 -7.85 L1.55 -8.85 C3.3 -8.9 4.25 -9.6 4.5 -11.1 L5.45 -11.1 Z" transform="translate(39.90 58.90) scale(1.0312)"/>
<text x="49.08" y="58.90" font-size="16.5" >0</text>
<text x="58.20" y="51.30" font-size="12.5" >−</text>
<text x="65.90" y="51.30" font-size="12.5" >6</text>
<text x="14.90" y="91.20" font-size="16.5" >6</text>
<path d="M27.90 82.90 L35.90 90.90 M27.90 90.90 L35.90 82.90" stroke="#000" stroke-width="0.95" fill="none"/>
<path d="M5.45 0 L4.0 0 L4.0 -7.85 L1.55 -7.85 L1.55 -8.85 C3.3 -8.9 4.25 -9.6 4.5 -11.1 L5.45 -11.1 Z" transform="translate(39.90 91.20) scale(1.0312)"/>
<text x="49.08" y="91.20" font-size="16.5" >0</text>
<text x="58.20" y="83.60" font-size="12.5" >−</text>
<text x="65.90" y="83.60" font-size="12.5" >6</text>
<text x="14.90" y="123.50" font-size="16.5" >4</text>
<path d="M27.90 115.20 L35.90 123.20 M27.90 123.20 L35.90 115.20" stroke="#000" stroke-width="0.95" fill="none"/>
<path d="M5.45 0 L4.0 0 L4.0 -7.85 L1.55 -7.85 L1.55 -8.85 C3.3 -8.9 4.25 -9.6 4.5 -11.1 L5.45 -11.1 Z" transform="translate(39.90 123.50) scale(1.0312)"/>
<text x="49.08" y="123.50" font-size="16.5" >0</text>
<text x="58.20" y="115.90" font-size="12.5" >−</text>
<text x="65.90" y="115.90" font-size="12.5" >6</text>
<text x="14.90" y="155.80" font-size="16.5" >2</text>
<path d="M27.90 147.50 L35.90 155.50 M27.90 155.50 L35.90 147.50" stroke="#000" stroke-width="0.95" fill="none"/>
<path d="M5.45 0 L4.0 0 L4.0 -7.85 L1.55 -7.85 L1.55 -8.85 C3.3 -8.9 4.25 -9.6 4.5 -11.1 L5.45 -11.1 Z" transform="translate(39.90 155.80) scale(1.0312)"/>
<text x="49.08" y="155.80" font-size="16.5" >0</text>
<text x="58.20" y="148.20" font-size="12.5" >−</text>
<text x="65.90" y="148.20" font-size="12.5" >6</text>
<text x="14.90" y="220.40" font-size="16.5" >2</text>
<text x="3.30" y="220.40" font-size="16.5" >−</text>
<path d="M27.90 212.10 L35.90 220.10 M27.90 220.10 L35.90 212.10" stroke="#000" stroke-width="0.95" fill="none"/>
<path d="M5.45 0 L4.0 0 L4.0 -7.85 L1.55 -7.85 L1.55 -8.85 C3.3 -8.9 4.25 -9.6 4.5 -11.1 L5.45 -11.1 Z" transform="translate(39.90 220.40) scale(1.0312)"/>
<text x="49.08" y="220.40" font-size="16.5" >0</text>
<text x="58.20" y="212.80" font-size="12.5" >−</text>
<text x="65.90" y="212.80" font-size="12.5" >6</text>
<text x="14.90" y="252.70" font-size="16.5" >4</text>
<text x="3.30" y="252.70" font-size="16.5" >−</text>
<path d="M27.90 244.40 L35.90 252.40 M27.90 252.40 L35.90 244.40" stroke="#000" stroke-width="0.95" fill="none"/>
<path d="M5.45 0 L4.0 0 L4.0 -7.85 L1.55 -7.85 L1.55 -8.85 C3.3 -8.9 4.25 -9.6 4.5 -11.1 L5.45 -11.1 Z" transform="translate(39.90 252.70) scale(1.0312)"/>
<text x="49.08" y="252.70" font-size="16.5" >0</text>
<text x="58.20" y="245.10" font-size="12.5" >−</text>
<text x="65.90" y="245.10" font-size="12.5" >6</text>
<text x="107.44" y="202.00" font-size="16.5" >0.02</text>
<text x="151.64" y="202.00" font-size="16.5" >0.04</text>
<text x="195.84" y="202.00" font-size="16.5" >0.06</text>
<text x="240.04" y="202.00" font-size="16.5" >0.08</text>
<text x="288.83" y="202.00" font-size="16.5" >0.</text>
<path d="M5.45 0 L4.0 0 L4.0 -7.85 L1.55 -7.85 L1.55 -8.85 C3.3 -8.9 4.25 -9.6 4.5 -11.1 L5.45 -11.1 Z" transform="translate(302.59 202.00) scale(1.0312)"/>
<text x="328.44" y="202.00" font-size="16.5" >0.</text>
<path d="M5.45 0 L4.0 0 L4.0 -7.85 L1.55 -7.85 L1.55 -8.85 C3.3 -8.9 4.25 -9.6 4.5 -11.1 L5.45 -11.1 Z" transform="translate(342.20 202.00) scale(1.0312)"/>
<text x="351.38" y="202.00" font-size="16.5" >2</text>
<text x="372.64" y="202.00" font-size="16.5" >0.</text>
<path d="M5.45 0 L4.0 0 L4.0 -7.85 L1.55 -7.85 L1.55 -8.85 C3.3 -8.9 4.25 -9.6 4.5 -11.1 L5.45 -11.1 Z" transform="translate(386.40 202.00) scale(1.0312)"/>
<text x="395.58" y="202.00" font-size="16.5" >4</text>
<text x="65.85" y="30.60" font-size="16.5" >|</text>
<text x="70.00" y="30.60" font-size="16.5" >A</text>
<text x="81.45" y="30.60" font-size="16.5" >|</text>
<text x="85.80" y="23.80" font-size="12" >2</text>
<text x="173.40" y="35.50" font-size="18" style="font-family:'Liberation Serif',serif;font-style:italic">η</text>
<text x="182.90" y="35.50" font-size="16.5" >=</text>
<path d="M5.45 0 L4.0 0 L4.0 -7.85 L1.55 -7.85 L1.55 -8.85 C3.3 -8.9 4.25 -9.6 4.5 -11.1 L5.45 -11.1 Z" transform="translate(193.10 35.50) scale(1.0312)"/>
<text x="202.28" y="35.50" font-size="16.5" >.</text>
<path d="M5.45 0 L4.0 0 L4.0 -7.85 L1.55 -7.85 L1.55 -8.85 C3.3 -8.9 4.25 -9.6 4.5 -11.1 L5.45 -11.1 Z" transform="translate(206.86 35.50) scale(1.0312)"/>
<text x="221.10" y="35.50" font-size="16.5" >a</text>
<text x="231.20" y="35.50" font-size="16.5" >=</text>
<text x="242.10" y="35.50" font-size="16.5" >0.</text>
<path d="M5.45 0 L4.0 0 L4.0 -7.85 L1.55 -7.85 L1.55 -8.85 C3.3 -8.9 4.25 -9.6 4.5 -11.1 L5.45 -11.1 Z" transform="translate(255.86 35.50) scale(1.0312)"/>
<text x="270.00" y="35.50" font-size="16.5" >l</text>
<text x="273.40" y="35.50" font-size="16.5" >=</text>
<path d="M5.45 0 L4.0 0 L4.0 -7.85 L1.55 -7.85 L1.55 -8.85 C3.3 -8.9 4.25 -9.6 4.5 -11.1 L5.45 -11.1 Z" transform="translate(283.50 35.50) scale(1.0312)"/>
<text x="144.70" y="146.20" font-size="16.5" >m</text>
<text x="159.10" y="146.20" font-size="16.5" >=</text>
<text x="170.70" y="146.20" font-size="16.5" >−</text>
<path d="M5.45 0 L4.0 0 L4.0 -7.85 L1.55 -7.85 L1.55 -8.85 C3.3 -8.9 4.25 -9.6 4.5 -11.1 L5.45 -11.1 Z" transform="translate(181.10 146.20) scale(1.0312)"/>
<text x="216.80" y="146.20" font-size="16.5" >m</text>
<text x="231.20" y="146.20" font-size="16.5" >=</text>
<text x="242.00" y="146.20" font-size="16.5" >0</text>
<text x="305.50" y="146.20" font-size="16.5" >m</text>
<text x="319.90" y="146.20" font-size="16.5" >=</text>
<path d="M5.45 0 L4.0 0 L4.0 -7.85 L1.55 -7.85 L1.55 -8.85 C3.3 -8.9 4.25 -9.6 4.5 -11.1 L5.45 -11.1 Z" transform="translate(329.50 146.20) scale(1.0312)"/>
<text x="327.00" y="89.20" font-size="16.5" >q</text>
<text x="337.90" y="89.20" font-size="16.5" >=</text>
<text x="348.40" y="89.20" font-size="16.5" >0.</text>
<path d="M5.45 0 L4.0 0 L4.0 -7.85 L1.55 -7.85 L1.55 -8.85 C3.3 -8.9 4.25 -9.6 4.5 -11.1 L5.45 -11.1 Z" transform="translate(362.16 89.20) scale(1.0312)"/>
<text x="355.10" y="121.80" font-size="16.5" >0.2</text>
<text x="359.30" y="146.20" font-size="16.5" >0.3</text>
<text x="407.40" y="187.20" font-size="18" style="font-family:'Liberation Serif',serif;font-style:italic">ω</text>
<text x="419.70" y="187.20" font-size="16.5" >M</text>
</g>
</svg>
</body></html>
